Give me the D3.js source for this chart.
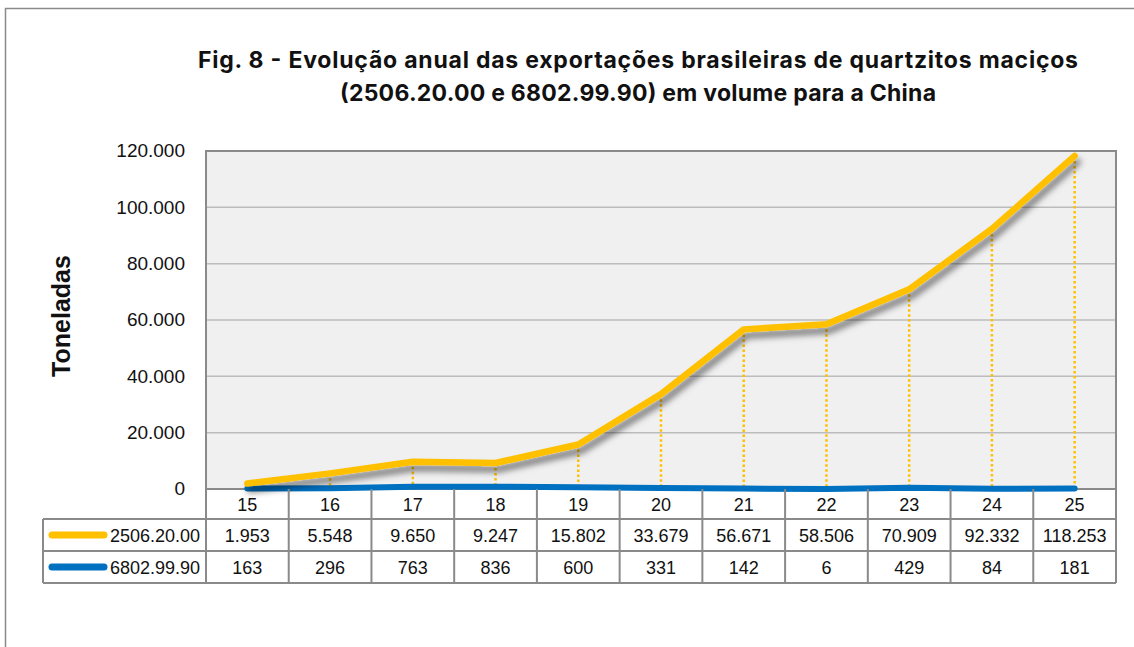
<!DOCTYPE html>
<html>
<head>
<meta charset="utf-8">
<script src="https://cdn.jsdelivr.net/npm/d3@7"></script>
<style>
  body { margin: 0; background: #fff; }
  text { font-family: "Liberation Sans", Arial, sans-serif; }
</style>
</head>
<body>
<script>
// chart data
var years = ["15", "16", "17", "18", "19", "20", "21", "22", "23", "24", "25"];
var quartzito = [1953, 5548, 9650, 9247, 15802, 33679, 56671, 58506, 70909, 92332, 118253];
var macico = [163, 296, 763, 836, 600, 331, 142, 6, 429, 84, 181];
var seriesNames = ["2506.20.00", "6802.99.90"];
var seriesColors = ["#FFC000", "#0070C0"];
var yTicks = [0, 20000, 40000, 60000, 80000, 100000, 120000];

var w = 1134, h = 647;
var plot = { left: 206, right: 1116, top: 151, bottom: 489 };
var rowH = 32;

var svg = d3.select("body").append("svg")
    .attr("width", w)
    .attr("height", h);

// shadow under the lines
var defs = svg.append("defs");
var f = defs.append("filter").attr("id", "shadow")
    .attr("x", "-10%").attr("y", "-10%").attr("width", "120%").attr("height", "140%");
f.append("feDropShadow")
    .attr("dx", 3).attr("dy", 6).attr("stdDeviation", 3)
    .attr("flood-color", "#000").attr("flood-opacity", 0.5);

// outer frame
svg.append("rect")
    .attr("x", 5.5).attr("y", 8.5)
    .attr("width", w + 20).attr("height", h + 20)
    .attr("fill", "none").attr("stroke", "#8a8a8a").attr("stroke-width", 1.5);

var x = d3.scaleBand().domain(years).range([plot.left, plot.right]);
var y = d3.scaleLinear().domain([0, 120000]).range([plot.bottom, plot.top]);

// title
var title = svg.append("text")
    .attr("text-anchor", "middle")
    .style("font-family", "Inter, sans-serif")
    .style("font-weight", 700)
    .style("font-size", "23px")
    .attr("fill", "#111");
title.append("tspan").attr("x", 638).attr("y", 68)
    .attr("textLength", 880).attr("lengthAdjust", "spacing")
    .text("Fig. 8 - Evolução anual das exportações brasileiras de quartzitos maciços");
title.append("tspan").attr("x", 638).attr("y", 101)
    .attr("textLength", 596).attr("lengthAdjust", "spacing")
    .text("(2506.20.00 e 6802.99.90) em volume para a China");

// plot background
svg.append("rect")
    .attr("x", plot.left).attr("y", plot.top)
    .attr("width", plot.right - plot.left).attr("height", plot.bottom - plot.top)
    .attr("fill", "#f0f0f0");

// gridlines
svg.append("g").selectAll("line")
    .data(yTicks.slice(1, -1))
    .join("line")
    .attr("x1", plot.left).attr("x2", plot.right)
    .attr("y1", function(d) { return y(d); })
    .attr("y2", function(d) { return y(d); })
    .attr("stroke", "#bcbcbc").attr("stroke-width", 1.5);

// y axis labels
var yAxis = d3.axisLeft(y)
    .tickValues(yTicks)
    .tickSize(0)
    .tickPadding(0)
    .tickFormat(function(d) { return d === 0 ? "0" : d3.format(",")(d).replace(/,/g, "."); });
var ya = svg.append("g")
    .attr("transform", "translate(185,0)")
    .call(yAxis);
ya.select(".domain").remove();
ya.selectAll("text")
    .style("font-family", "'Liberation Sans', Arial, sans-serif")
    .style("font-size", "19px")
    .attr("fill", "#111")
    .attr("dy", "0.3em");

svg.append("text")
    .attr("transform", "translate(70,316) rotate(-90)")
    .attr("text-anchor", "middle")
    .style("font-weight", 700)
    .style("font-size", "25px")
    .attr("fill", "#111")
    .text("Toneladas");

// plot border
var grid = "#8a8a8a";
svg.append("rect")
    .attr("x", plot.left).attr("y", plot.top)
    .attr("width", plot.right - plot.left).attr("height", plot.bottom - plot.top)
    .attr("fill", "none").attr("stroke", grid).attr("stroke-width", 2);

// drop lines
svg.append("g").selectAll("line")
    .data(quartzito)
    .join("line")
    .attr("x1", function(d, i) { return x(years[i]) + x.bandwidth() / 2; })
    .attr("x2", function(d, i) { return x(years[i]) + x.bandwidth() / 2; })
    .attr("y1", function(d) { return y(d); })
    .attr("y2", plot.bottom)
    .attr("stroke", "#FFC000").attr("stroke-width", 2.5)
    .attr("stroke-dasharray", "2.5,2.5");

var line = d3.line()
    .x(function(d, i) { return x(years[i]) + x.bandwidth() / 2; })
    .y(function(d) { return y(d); });

svg.append("path")
    .datum(macico)
    .attr("d", line)
    .attr("fill", "none")
    .attr("stroke", seriesColors[1])
    .attr("stroke-width", 6)
    .attr("stroke-linejoin", "round")
    .attr("stroke-linecap", "round");

svg.append("path")
    .datum(quartzito)
    .attr("d", line)
    .attr("fill", "none")
    .attr("stroke", seriesColors[0])
    .attr("stroke-width", 6.5)
    .attr("stroke-linejoin", "round")
    .attr("stroke-linecap", "round")
    .attr("filter", "url(#shadow)");

// data table
var tb = svg.append("g");
var tableBottom = plot.bottom + 30 + rowH * 2;

// category header cells
tb.selectAll("text.cat")
    .data(years)
    .join("text")
    .attr("class", "cat")
    .attr("x", function(d) { return x(d) + x.bandwidth() / 2; })
    .attr("y", plot.bottom + 22)
    .attr("text-anchor", "middle")
    .style("font-size", "18px")
    .attr("fill", "#111")
    .text(function(d) { return d; });

var rows = [quartzito, macico];
rows.forEach(function(vals, r) {
  var ry = plot.bottom + 30 + r * rowH;
  tb.selectAll("text.v" + r)
    .data(vals)
    .join("text")
    .attr("x", function(d, i) { return x(years[i]) + x.bandwidth() / 2; })
    .attr("y", ry + 23)
    .attr("text-anchor", "middle")
    .style("font-size", "18px")
    .attr("fill", "#111")
    .text(function(d) { return d3.format(",")(d).replace(/,/g, "."); });

  tb.append("line")
    .attr("x1", 52).attr("x2", 104)
    .attr("y1", ry + 16).attr("y2", ry + 16)
    .attr("stroke", seriesColors[r]).attr("stroke-width", 7)
    .attr("stroke-linecap", "round");
  tb.append("text")
    .attr("x", 200).attr("y", ry + 23)
    .attr("text-anchor", "end")
    .style("font-size", "18px")
    .attr("fill", "#111")
    .text(seriesNames[r]);
});

// table grid lines
var hLines = [
  { x1: 43, y: plot.bottom + 30 },
  { x1: 43, y: plot.bottom + 30 + rowH },
  { x1: 43, y: tableBottom }
];
tb.selectAll("line.h")
  .data(hLines)
  .join("line")
  .attr("x1", function(d) { return d.x1; })
  .attr("x2", plot.right)
  .attr("y1", function(d) { return d.y; })
  .attr("y2", function(d) { return d.y; })
  .attr("stroke", grid).attr("stroke-width", 2);

var vx = years.map(function(d) { return x(d); }).concat([plot.right]);
tb.selectAll("line.v")
  .data(vx)
  .join("line")
  .attr("x1", function(d) { return d; })
  .attr("x2", function(d) { return d; })
  .attr("y1", plot.bottom)
  .attr("y2", tableBottom)
  .attr("stroke", grid).attr("stroke-width", 2);
tb.append("line")
  .attr("x1", 43).attr("x2", 43)
  .attr("y1", plot.bottom + 30).attr("y2", tableBottom)
  .attr("stroke", grid).attr("stroke-width", 2);
</script>
</body>
</html>
